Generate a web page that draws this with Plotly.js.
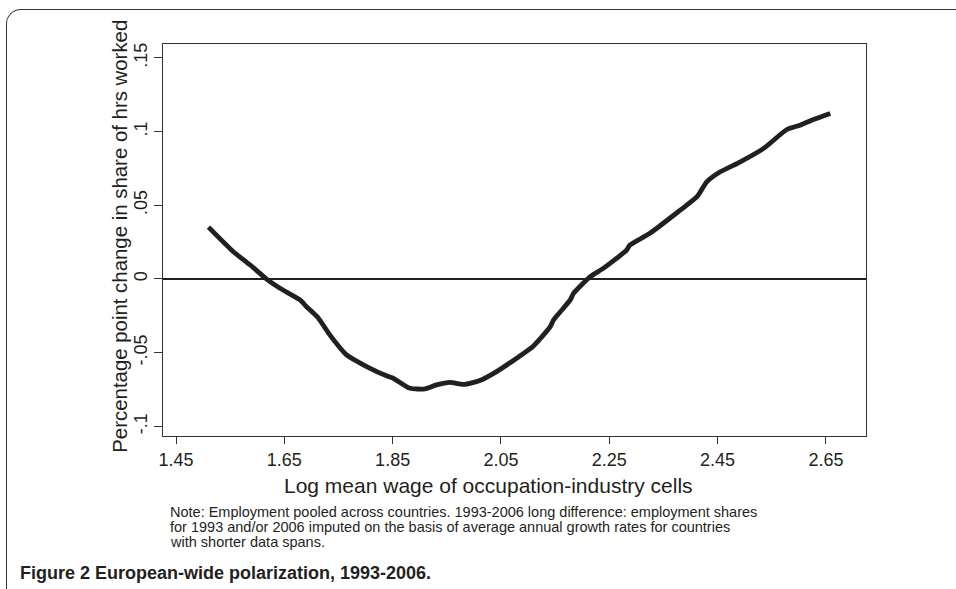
<!DOCTYPE html>
<html>
<head>
<meta charset="utf-8">
<script src="https://cdn.plot.ly/plotly-3.0.1.min.js"></script>
<style>
  html, body { margin: 0; padding: 0; background: #fff; }
  #wrap { position: relative; width: 956px; height: 589px; overflow: hidden; }
  #frame { position: absolute; left: 6px; top: 9px; width: 970px; height: 600px;
           border-top: 1.6px solid #333; border-left: 1.6px solid #333;
           border-top-left-radius: 15px; box-sizing: border-box; }
  #chart { position: absolute; left: 0; top: 0; width: 956px; height: 589px; }
</style>
</head>
<body>
<div id="wrap">
  <div id="frame"></div>
  <div id="chart"></div>
</div>
<script>
// Log mean wage of occupation-industry cells
const logWage = [1.510, 1.556, 1.587, 1.618, 1.642, 1.679, 1.691, 1.713, 1.734, 1.765,
                 1.802, 1.842, 1.851, 1.882, 1.910, 1.931, 1.956, 1.981, 2.011, 2.042,
                 2.079, 2.110, 2.141, 2.147, 2.178, 2.184, 2.215, 2.239, 2.282, 2.288,
                 2.325, 2.381, 2.412, 2.430, 2.455, 2.492, 2.535, 2.578, 2.602, 2.627, 2.658];
// Percentage point change in share of hours worked
const shareChange = [0.0352, 0.0185, 0.0095, -0.0003, -0.0063, -0.0142, -0.0188, -0.0266, -0.0379, -0.0515,
                     -0.0594, -0.0662, -0.0673, -0.0741, -0.0745, -0.0718, -0.0701, -0.0715, -0.0688, -0.0628,
                     -0.0537, -0.0454, -0.0323, -0.0278, -0.0142, -0.0097, 0.0016, 0.0072, 0.0196, 0.0230,
                     0.0310, 0.0467, 0.0558, 0.0659, 0.0727, 0.0795, 0.0886, 0.1014, 0.1043, 0.1082, 0.1123];
const xTicks = [1.45, 1.65, 1.85, 2.05, 2.25, 2.45, 2.65];
const xTickText = ["1.45", "1.65", "1.85", "2.05", "2.25", "2.45", "2.65"];
const yTicks = [-0.1, -0.05, 0, 0.05, 0.1, 0.15];
const yTickText = ["-.1", "-.05", "0", ".05", ".1", ".15"];

const xTitle = "Log mean wage of occupation-industry cells";
const yTitle = "Percentage point change in share of hrs worked";
const noteLines = [
  "Note: Employment pooled across countries. 1993-2006 long difference: employment shares",
  "for 1993 and/or 2006 imputed on the basis of average annual growth rates for countries",
  "with shorter data spans."
];
const captionText = "<b>Figure 2 European-wide polarization, 1993-2006.</b>";

const ink = "#231f20";
const trace = {
  x: logWage, y: shareChange, type: "scatter", mode: "lines",
  line: { color: ink, width: 4.8, shape: "spline", smoothing: 0.6 },
  hoverinfo: "skip", showlegend: false
};

// plot-area pixel helpers for text placement
const PL = 163, PW = 702.7, PB = 436, PH = 391.5;
const px = v => (v - PL) / PW;
const py = v => (PB - v) / PH;
const base = { xref: "paper", yref: "paper", showarrow: false };

const annotations = [
  Object.assign({}, base, { text: xTitle, x: px(488), y: py(471.5), xanchor: "center", yanchor: "top",
    font: { family: "Liberation Sans, Arial", size: 21, color: ink } }),
  Object.assign({}, base, { text: yTitle, x: px(120), y: py(236), xanchor: "center", yanchor: "middle",
    textangle: -90, font: { family: "Liberation Sans, Arial", size: 20.4, color: ink } })
];
noteLines.forEach((t, i) => annotations.push(Object.assign({}, base, {
  text: t, x: px(168), y: py(512 + 15 * i), xanchor: "left", yanchor: "middle", align: "left",
  font: { family: "Liberation Sans, Arial", size: 14.5, color: ink }
})));
annotations.push(Object.assign({}, base, {
  text: captionText, x: px(18), y: py(573), xanchor: "left", yanchor: "middle", align: "left",
  font: { family: "Liberation Sans, Arial", size: 18, color: ink }
}));

const layout = {
  width: 956, height: 589,
  margin: { l: 163, r: 90, t: 44, b: 153 },
  paper_bgcolor: "rgba(0,0,0,0)", plot_bgcolor: "#fff",
  font: { family: "Liberation Sans, Arial, sans-serif", color: ink },
  xaxis: {
    range: [1.426, 2.724], tickvals: xTicks, ticktext: xTickText,
    ticks: "outside", ticklen: 7, tickwidth: 1, tickcolor: "#333",
    showline: true, linecolor: "#333", linewidth: 1.2, mirror: true,
    showgrid: false, zeroline: false,
    tickfont: { family: "Liberation Sans, Arial", size: 18, color: ink }
  },
  yaxis: {
    range: [-0.1065, 0.1594], tickvals: yTicks, ticktext: yTickText, tickangle: -90,
    ticks: "outside", ticklen: 8, tickwidth: 1, tickcolor: "#333",
    showline: true, linecolor: "#333", linewidth: 1.2, mirror: true,
    showgrid: false, zeroline: true, zerolinecolor: ink, zerolinewidth: 1.6,
    tickfont: { family: "Liberation Sans, Arial", size: 18, color: ink }
  },
  annotations: annotations
};

Plotly.newPlot("chart", [trace], layout, { staticPlot: true, displayModeBar: false });
</script>
</body>
</html>
